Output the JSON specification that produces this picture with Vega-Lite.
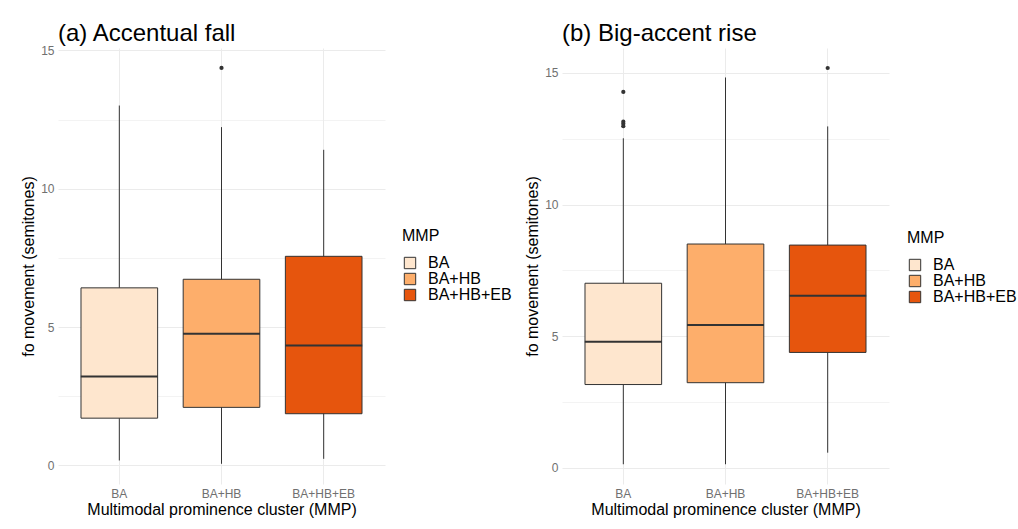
{
  "$schema": "https://vega.github.io/schema/vega-lite/v6.json",
  "background": "white",
  "padding": {"left": 20, "top": 21, "right": 3, "bottom": 10},
  "bounds": "flush",
  "spacing": 177,
  "config": {
    "font": "Liberation Sans",
    "view": {"stroke": null},
    "axis": {"domain": false, "ticks": false, "labelColor": "#707070", "labelFontSize": 12, "titleColor": "#000000", "titleFontSize": 16, "titleFontWeight": "normal", "gridColor": "#ebebeb"},
    "legend": {"titleFontSize": 16, "titleFontWeight": "normal", "titleColor": "#000000", "labelFontSize": 16, "labelColor": "#000000", "symbolType": "square", "symbolSize": 130, "symbolStrokeColor": "#333333", "symbolStrokeWidth": 1, "rowPadding": 0, "titlePadding": 11, "labelOffset": 10},
    "title": {"fontSize": 24, "fontWeight": "normal", "anchor": "start", "frame": "group", "color": "#000000"}
  },
  "resolve": {"scale": {"fill": "independent"}, "legend": {"fill": "independent"}},
  "datasets": {
    "stats": [
      {"panel": "a", "MMP": "BA", "lower": 0.18, "q1": 1.71, "median": 3.22, "q3": 6.42, "upper": 13.01},
      {"panel": "a", "MMP": "BA+HB", "lower": 0.06, "q1": 2.10, "median": 4.76, "q3": 6.73, "upper": 12.23},
      {"panel": "a", "MMP": "BA+HB+EB", "lower": 0.24, "q1": 1.87, "median": 4.34, "q3": 7.56, "upper": 11.41},
      {"panel": "b", "MMP": "BA", "lower": 0.13, "q1": 3.16, "median": 4.79, "q3": 7.01, "upper": 12.52},
      {"panel": "b", "MMP": "BA+HB", "lower": 0.13, "q1": 3.23, "median": 5.42, "q3": 8.50, "upper": 14.83},
      {"panel": "b", "MMP": "BA+HB+EB", "lower": 0.57, "q1": 4.38, "median": 6.53, "q3": 8.46, "upper": 12.97}
    ],
    "outliers": [
      {"panel": "a", "MMP": "BA+HB", "value": 14.37},
      {"panel": "b", "MMP": "BA", "value": 14.28},
      {"panel": "b", "MMP": "BA", "value": 13.15},
      {"panel": "b", "MMP": "BA", "value": 13.07},
      {"panel": "b", "MMP": "BA", "value": 12.98},
      {"panel": "b", "MMP": "BA+HB+EB", "value": 15.19}
    ]
  },
  "hconcat": [
    {
      "title": {"text": "(a) Accentual fall", "offset": -1.5},
      "width": 327,
      "height": 436,
      "layer": [
        {
          "data": {"name": "stats"},
          "transform": [{"filter": "datum.panel === 'a'"}],
          "mark": {"type": "rule", "color": "#333333", "strokeWidth": 1},
          "encoding": {
            "x": {"field": "MMP", "type": "nominal", "sort": ["BA", "BA+HB", "BA+HB+EB"], "scale": {"paddingInner": 0, "paddingOuter": 0.1}, "axis": {"labelAngle": 0, "grid": true, "bandPosition": 0.5, "labelPadding": 4, "titlePadding": 2}, "title": "Multimodal prominence cluster (MMP)"},
            "y": {"field": "lower", "type": "quantitative", "scale": {"domain": [-0.67, 15.09], "nice": false, "zero": false}, "axis": {"values": [0, 2.5, 5, 7.5, 10, 12.5, 15], "labelExpr": "datum.value % 5 === 0 ? datum.label : ''", "gridWidth": {"condition": {"test": "datum.value % 5 === 0", "value": 1}, "value": 0.6}, "labelPadding": 4, "titlePadding": 4}, "title": "fo movement (semitones)"},
            "y2": {"field": "upper"}
          }
        },
        {
          "data": {"name": "stats"},
          "transform": [{"filter": "datum.panel === 'a'"}],
          "mark": {"type": "bar", "stroke": "#333333", "strokeWidth": 1, "width": {"band": 0.75}},
          "encoding": {
            "x": {"field": "MMP", "type": "nominal", "sort": ["BA", "BA+HB", "BA+HB+EB"]},
            "y": {"field": "q1", "type": "quantitative"},
            "y2": {"field": "q3"},
            "fill": {"field": "MMP", "type": "nominal", "scale": {"domain": ["BA", "BA+HB", "BA+HB+EB"], "range": ["#fee6ce", "#fdae6b", "#e6550d"]}, "legend": {"title": "MMP", "orient": "none", "legendX": 344, "legendY": 180}}
          }
        },
        {
          "data": {"name": "stats"},
          "transform": [{"filter": "datum.panel === 'a'"}],
          "mark": {"type": "tick", "color": "#333333", "thickness": 2, "size": 77, "opacity": 1},
          "encoding": {
            "x": {"field": "MMP", "type": "nominal", "sort": ["BA", "BA+HB", "BA+HB+EB"]},
            "y": {"field": "median", "type": "quantitative"}
          }
        },
        {
          "data": {"name": "outliers"},
          "transform": [{"filter": "datum.panel === 'a'"}],
          "mark": {"type": "circle", "color": "#333333", "size": 18, "opacity": 1},
          "encoding": {
            "x": {"field": "MMP", "type": "nominal", "sort": ["BA", "BA+HB", "BA+HB+EB"]},
            "y": {"field": "value", "type": "quantitative"}
          }
        }
      ]
    },
    {
      "title": {"text": "(b) Big-accent rise", "offset": 2},
      "width": 327,
      "height": 436,
      "layer": [
        {
          "data": {"name": "stats"},
          "transform": [{"filter": "datum.panel === 'b'"}],
          "mark": {"type": "rule", "color": "#333333", "strokeWidth": 1},
          "encoding": {
            "x": {"field": "MMP", "type": "nominal", "sort": ["BA", "BA+HB", "BA+HB+EB"], "scale": {"paddingInner": 0, "paddingOuter": 0.1}, "axis": {"labelAngle": 0, "grid": true, "bandPosition": 0.5, "labelPadding": 4, "titlePadding": 2}, "title": "Multimodal prominence cluster (MMP)"},
            "y": {"field": "lower", "type": "quantitative", "scale": {"domain": [-0.62, 15.95], "nice": false, "zero": false}, "axis": {"values": [0, 2.5, 5, 7.5, 10, 12.5, 15], "labelExpr": "datum.value % 5 === 0 ? datum.label : ''", "gridWidth": {"condition": {"test": "datum.value % 5 === 0", "value": 1}, "value": 0.6}, "labelPadding": 4, "titlePadding": 4}, "title": "fo movement (semitones)"},
            "y2": {"field": "upper"}
          }
        },
        {
          "data": {"name": "stats"},
          "transform": [{"filter": "datum.panel === 'b'"}],
          "mark": {"type": "bar", "stroke": "#333333", "strokeWidth": 1, "width": {"band": 0.75}},
          "encoding": {
            "x": {"field": "MMP", "type": "nominal", "sort": ["BA", "BA+HB", "BA+HB+EB"]},
            "y": {"field": "q1", "type": "quantitative"},
            "y2": {"field": "q3"},
            "fill": {"field": "MMP", "type": "nominal", "scale": {"domain": ["BA", "BA+HB", "BA+HB+EB"], "range": ["#fee6ce", "#fdae6b", "#e6550d"]}, "legend": {"title": "MMP", "orient": "none", "legendX": 345, "legendY": 182}}
          }
        },
        {
          "data": {"name": "stats"},
          "transform": [{"filter": "datum.panel === 'b'"}],
          "mark": {"type": "tick", "color": "#333333", "thickness": 2, "size": 77, "opacity": 1},
          "encoding": {
            "x": {"field": "MMP", "type": "nominal", "sort": ["BA", "BA+HB", "BA+HB+EB"]},
            "y": {"field": "median", "type": "quantitative"}
          }
        },
        {
          "data": {"name": "outliers"},
          "transform": [{"filter": "datum.panel === 'b'"}],
          "mark": {"type": "circle", "color": "#333333", "size": 18, "opacity": 1},
          "encoding": {
            "x": {"field": "MMP", "type": "nominal", "sort": ["BA", "BA+HB", "BA+HB+EB"]},
            "y": {"field": "value", "type": "quantitative"}
          }
        }
      ]
    }
  ]
}
